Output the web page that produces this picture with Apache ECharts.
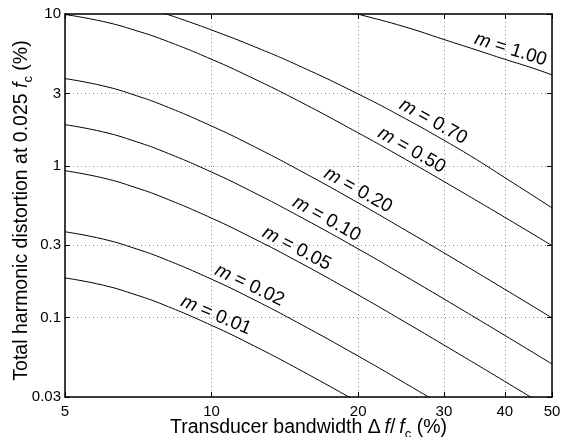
<!DOCTYPE html>
<html><head><meta charset="utf-8">
<script src="https://cdn.jsdelivr.net/npm/echarts@6/dist/echarts.min.js"></script>
<style>html,body{margin:0;padding:0;background:#fff}#c{width:563px;height:437px}</style>
</head><body><div id="c"></div>
<script>
const FONT = '"Liberation Sans", Arial, Helvetica, sans-serif';

const xTicks = [5, 10, 20, 30, 40, 50];
const xTickLabels = ['5', '10', '20', '30', '40', '50'];
const yTicks = [0.03, 0.1, 0.3, 1, 3, 10];
const yTickLabels = ['0.03', '0.1', '0.3', '1', '3', '10'];

const mValues = ['1.00', '0.70', '0.50', '0.20', '0.10', '0.05', '0.02', '0.01'];

const bw_m100 = [18, 20, 25, 30, 35, 40, 45, 50];
const thd_m100 = [10.87, 9.97, 8.21, 6.79, 5.79, 5.03, 4.47, 3.97];
const bw_m070 = [7, 8, 9, 10, 12, 15, 20, 25, 30, 35, 40, 45, 50];
const thd_m070 = [11.45, 10.08, 8.87, 7.845, 6.253, 4.61, 2.972, 2.045, 1.473, 1.099, 0.836, 0.657, 0.528];
const bw_std = [5, 6, 7, 8, 10, 12, 15, 20, 25, 30, 40, 50];
const thd_m050 = [9.92, 8.91, 7.77, 6.72, 5.03, 3.85, 2.70, 1.648, 1.104, 0.788, 0.458, 0.298];
const thd_m020 = [3.754, 3.356, 2.90, 2.484, 1.828, 1.380, 0.950, 0.570, 0.377, 0.267, 0.1537, 0.0995];
const thd_m010 = [1.866, 1.669, 1.442, 1.235, 0.909, 0.686, 0.472, 0.2836, 0.1874, 0.1327, 0.0764, 0.0495];
const thd_m005 = [0.928, 0.830, 0.717, 0.614, 0.452, 0.341, 0.235, 0.141, 0.0932, 0.066, 0.038, 0.0246];
const bw_m002 = [5, 6, 7, 8, 10, 12, 15, 20, 25, 30];
const thd_m002 = [0.3675, 0.3286, 0.2839, 0.2432, 0.179, 0.1351, 0.093, 0.0558, 0.0369, 0.0261];
const bw_m001 = [5, 6, 7, 8, 10, 12, 15, 20];
const thd_m001 = [0.1826, 0.1633, 0.1411, 0.1209, 0.0889, 0.0671, 0.0462, 0.0277];

const labelAnchorBw = [40.5, 27.8, 25.1, 19.5, 16.8, 14.6, 11.7, 10.0];

const curves = [
  [bw_m100, thd_m100], [bw_m070, thd_m070], [bw_std, thd_m050], [bw_std, thd_m020],
  [bw_std, thd_m010], [bw_std, thd_m005], [bw_m002, thd_m002], [bw_m001, thd_m001]
];

function fmtFrom(ticks, labels) {
  return function (v) {
    const i = ticks.findIndex(t => Math.abs(Math.log10(t) - Math.log10(v)) < 1e-6);
    return i >= 0 ? labels[i] : '';
  };
}

const TS = 19.5;
const titleRich = {
  n: { fontFamily: FONT, fontSize: TS, color: '#000', lineHeight: 26 },
  i: { fontFamily: FONT, fontSize: TS, color: '#000', fontStyle: 'italic', lineHeight: 26 },
  s: { fontFamily: FONT, fontSize: 13, color: '#000', lineHeight: 13, verticalAlign: 'bottom' }
};

const axisLineStyle = { color: '#000', width: 1.5 };
const gridLine = { show: true, lineStyle: { color: '#8f8f8f', type: [1, 3], width: 1 } };

function xAxisDef(top) {
  return {
    type: 'log', logBase: 10, min: 5, max: 50, gridIndex: 0,
    position: top ? 'top' : 'bottom',
    axisLine: { show: true, onZero: false, lineStyle: axisLineStyle },
    axisTick: { show: true, inside: true, length: 5, customValues: xTicks, lineStyle: { color: '#000', width: 1 } },
    axisLabel: top ? { show: false } : {
      show: true, customValues: xTicks, margin: 7, color: '#000', fontFamily: FONT, fontSize: 15,
      formatter: fmtFrom(xTicks, xTickLabels)
    },
    minorTick: { show: false }, minorSplitLine: { show: false },
    splitLine: top ? { show: false } : gridLine,
    name: top ? '' : '{n|Transducer bandwidth Δ\u2009}{i|f}{n|/\u2009}{i|f}{s|c}{n| (%)}',
    nameLocation: 'middle', nameGap: 18, nameMoveOverlap: false,
    nameTextStyle: { fontFamily: FONT, fontSize: TS, color: '#000', rich: titleRich }
  };
}
function yAxisDef(right) {
  return {
    type: 'log', logBase: 10, min: 0.03, max: 10, gridIndex: 0,
    position: right ? 'right' : 'left',
    axisLine: { show: true, onZero: false, lineStyle: axisLineStyle },
    axisTick: { show: true, inside: true, length: 5, customValues: yTicks, lineStyle: { color: '#000', width: 1 } },
    axisLabel: right ? { show: false } : {
      show: true, customValues: yTicks, margin: 4, color: '#000', fontFamily: FONT, fontSize: 15,
      formatter: fmtFrom(yTicks, yTickLabels)
    },
    minorTick: { show: false }, minorSplitLine: { show: false },
    splitLine: right ? { show: false } : gridLine,
    name: right ? '' : '{n|Total harmonic distortion at 0.025 }{i|f}{s|c}{n| (%)}',
    nameLocation: 'middle', nameGap: 30, nameRotate: 90, nameMoveOverlap: false,
    nameTextStyle: { fontFamily: FONT, fontSize: TS, color: '#000', rich: titleRich, padding: [0, 10, 0, 0] }
  };
}

const series = curves.map((c, k) => ({
  type: 'line', name: 'm = ' + mValues[k], xAxisIndex: 0, yAxisIndex: 0,
  data: c[0].map((x, i) => [x, c[1][i]]),
  showSymbol: false, symbol: 'none', smooth: 0.5, clip: true,
  lineStyle: { color: '#000', width: 1 }, silent: true, z: 3
}));

const chart = echarts.init(document.getElementById('c'), null, { renderer: 'canvas' });
chart.setOption({
  animation: false,
  backgroundColor: '#fff',
  grid: { left: 65, right: 11, top: 14, bottom: 40, containLabel: false, outerBoundsMode: 'none' },
  xAxis: [xAxisDef(false), xAxisDef(true)],
  yAxis: [yAxisDef(false), yAxisDef(true)],
  series: series
});

// Curve labels: anchored on each curve via the chart's own coordinate conversion
const finder = { xAxisIndex: 0, yAxisIndex: 0 };
const graphics = [];
const OFFSET = 11;
curves.forEach((c, k) => {
  const bw = c[0], thd = c[1], xa = labelAnchorBw[k];
  let i = 0;
  while (i < bw.length - 2 && bw[i + 1] < xa) i++;
  const p0 = chart.convertToPixel(finder, [bw[i], thd[i]]);
  const p1 = chart.convertToPixel(finder, [bw[i + 1], thd[i + 1]]);
  const pa = chart.convertToPixel(finder, [xa, thd[i]]);
  const t = (pa[0] - p0[0]) / (p1[0] - p0[0]);
  const px = pa[0], py = p0[1] + t * (p1[1] - p0[1]);
  const th = Math.atan2(p1[1] - p0[1], p1[0] - p0[0]);
  graphics.push({
    type: 'text', z: 10,
    x: px + OFFSET * Math.sin(th), y: py - OFFSET * Math.cos(th),
    rotation: -th,
    style: {
      text: '{i|m} = ' + mValues[k],
      fontFamily: FONT, fontSize: 19, fill: '#000',
      align: 'center', verticalAlign: 'middle',
      rich: { i: { fontFamily: FONT, fontSize: 19, fontStyle: 'italic', fill: '#000' } }
    }
  });
});
chart.setOption({ graphic: graphics });
</script>
</body></html>
